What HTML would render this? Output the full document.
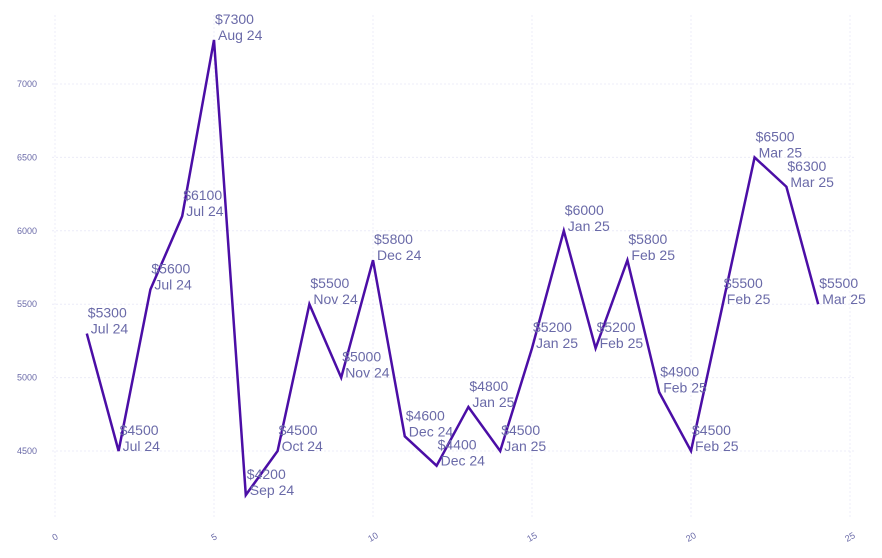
<!DOCTYPE html>
<html><head><meta charset="utf-8"><style>
body{margin:0;background:#fff;}
svg{display:block;font-family:"Liberation Sans",sans-serif;}
</style></head><body>
<svg id="chart" width="882" height="558" viewBox="0 0 882 558"></svg>
<script>
const xValues=[1,2,3,4,5,6,7,8,9,10,11,12,13,14,15,16,17,18,19,20,21,22,23,24];
const yValues=[5300,4500,5600,6100,7300,4200,4500,5500,5000,5800,4600,4400,4800,4500,5200,6000,5200,5800,4900,4500,5500,6500,6300,5500];
const monthLabels=["Jul 24","Jul 24","Jul 24","Jul 24","Aug 24","Sep 24","Oct 24","Nov 24","Nov 24","Dec 24","Dec 24","Dec 24","Jan 25","Jan 25","Jan 25","Jan 25","Feb 25","Feb 25","Feb 25","Feb 25","Feb 25","Mar 25","Mar 25","Mar 25"];
const xTicks=[0,5,10,15,20,25];
const yTicks=[4500,5000,5500,6000,6500,7000];
const NS="http://www.w3.org/2000/svg";
const svg=document.getElementById('chart');
const X=v=>55+v*31.8;
const Y=v=>451-(v-4500)*0.1468;
function mk(t,a){const e=document.createElementNS(NS,t);for(const k in a)e.setAttribute(k,a[k]);svg.appendChild(e);return e;}
yTicks.forEach(t=>{
  const g=mk('line',{x1:52,x2:855,y1:Y(t),y2:Y(t),stroke:'#ececf8','stroke-width':1,'stroke-dasharray':'2,2'});
  
  
  const l=mk('text',{x:37,y:Y(t)+3,'text-anchor':'end','font-size':9,fill:'#6a6aa8'});
  l.textContent=t;
  
  
});
xTicks.forEach(t=>{
  const g=mk('line',{x1:X(t),x2:X(t),y1:15,y2:517,stroke:'#ececf8','stroke-width':1,'stroke-dasharray':'2,2'});
  
  
  const l=mk('text',{x:X(t),y:540,'text-anchor':'middle','font-size':9,fill:'#6a6aa8',transform:`rotate(-30 ${X(t)} 537)`});
  l.textContent=t;
  
  
});
const pts=xValues.map((x,i)=>X(x)+','+Y(yValues[i])).join(' ');
const line=mk('polyline',{points:pts,fill:'none',stroke:'#4b0ea6','stroke-width':2.5,'stroke-linejoin':'miter'});


xValues.forEach((x,i)=>{
  const px=X(x),py=Y(yValues[i]);
  const v=mk('text',{x:px+1,y:py-16,'font-size':14,fill:'#6a6aa8'});
  v.textContent='$'+yValues[i];
  
  
  const m=mk('text',{x:px+4,y:py,'font-size':14,fill:'#6a6aa8'});
  m.textContent=monthLabels[i];
  
  
});
</script>
</body></html>
